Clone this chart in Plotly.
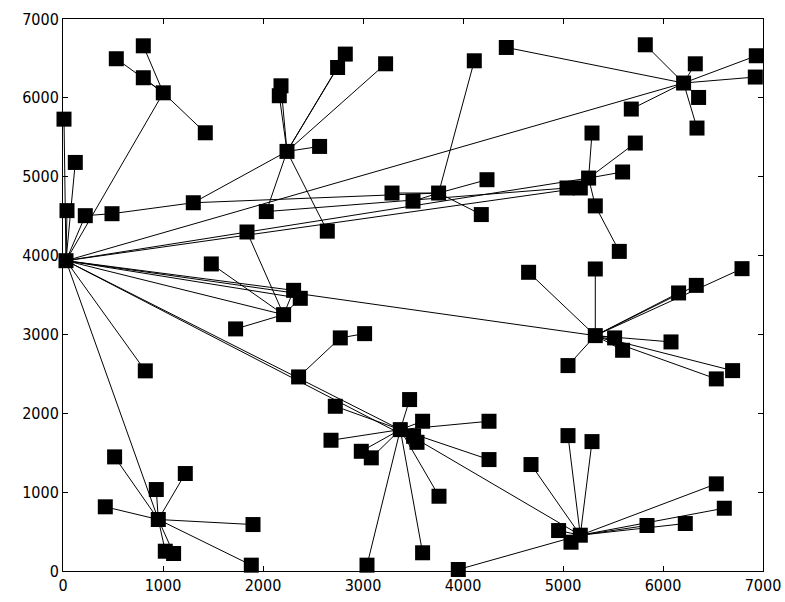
import plotly.graph_objects as go

# Node coordinates
node_x = [30, 10, 123, 40, 223, 490, 1303,
          1003, 533, 803, 803, 1423,
          2240, 2180, 2163, 2746, 2823, 3226, 2566, 2643, 2033,
          3756, 3290, 3500, 4240, 4183, 4113,
          6206, 5823, 6323, 6356, 6340, 6933, 6923, 5683, 4433,
          5256, 5290, 5723, 5596, 5040, 5173, 5323, 5563,
          2206, 2306, 2373, 1726, 1483, 1840,
          823,
          2356, 2773, 3016,
          5323, 4656, 5323, 6790, 6333, 6156, 5516, 5596, 6080, 6696, 6533, 5050,
          3373, 3466, 3596, 4260, 3506, 3540, 2680, 2983, 3083, 4260, 3760, 3596, 3040, 2723,
          953, 516, 933, 1223, 423, 1900, 1023, 1106, 1883,
          5173, 4956, 5080, 5050, 5290, 4680, 5840, 6223, 6533, 6613, 3953]
node_y = [3935, 5730, 5181, 4570, 4506, 4531, 4670,
          6064, 6496, 6660, 6255, 5557,
          5321, 6153, 6027, 6385, 6555, 6432, 5384, 4310, 4558,
          4793, 4793, 4690, 4962, 4520, 6470,
          6188, 6673, 6432, 6005, 5617, 6534, 6264, 5858, 6639,
          4983, 5554, 5427, 5060, 4857, 4857, 4630, 4053,
          3251, 3559, 3458, 3070, 3894, 4299,
          2538,
          2461, 2956, 3010,
          2985, 3788, 3830, 3834, 3622, 3526, 2956, 2799, 2905, 2541, 2436, 2605,
          1793, 2174, 1899, 1899, 1708, 1632, 1658, 1518, 1435, 1413, 948, 231, 74, 2089,
          653, 1447, 1033, 1236, 814, 589, 251, 222, 74,
          454, 513, 365, 1717, 1641, 1350, 577, 602, 1105, 796, 19]

# Edges (pairs of node indices)
edge_from = [0, 0, 0, 0, 0, 0, 0, 0, 0, 0, 0, 0, 0, 0, 0, 0,
             4, 5, 6, 6,
             7, 7, 7, 7,
             12, 12, 12, 12, 12, 12, 12, 12,
             21, 21, 21, 21, 21,
             27, 27, 27, 27, 27, 27, 27, 27,
             36, 36, 36, 36, 36, 36, 42, 20,
             44, 44, 44, 44, 44,
             51, 52,
             54, 54, 54, 54, 54, 54, 54, 54, 54, 54, 54,
             66, 66, 66, 66, 66, 66, 66, 66, 66, 66, 66, 66, 66, 66,
             80, 80, 80, 80, 80, 80, 80, 80,
             89, 89, 89, 89, 89, 89, 89, 89, 89, 89]
edge_to = [1, 2, 3, 4, 7, 27, 36, 41, 44, 45, 46, 54, 66, 71, 50, 80,
           5, 6, 12, 21,
           8, 9, 10, 11,
           13, 14, 15, 16, 17, 18, 19, 20,
           22, 23, 24, 25, 26,
           28, 29, 30, 31, 32, 33, 34, 35,
           37, 38, 39, 40, 41, 42, 43, 40,
           45, 46, 47, 48, 49,
           52, 53,
           55, 56, 57, 58, 59, 60, 61, 62, 63, 64, 65,
           67, 68, 69, 70, 71, 72, 73, 74, 75, 76, 77, 78, 79, 89,
           81, 82, 83, 84, 85, 86, 87, 88,
           90, 91, 92, 93, 94, 95, 96, 97, 98, 99]

tick_vals = [0, 1000, 2000, 3000, 4000, 5000, 6000, 7000]
tick_text = ["0", "1000", "2000", "3000", "4000", "5000", "6000", "7000"]

lx, ly = [], []
for a, b in zip(edge_from, edge_to):
    lx += [node_x[a], node_x[b], None]
    ly += [node_y[a], node_y[b], None]

fig = go.Figure()
fig.add_trace(go.Scatter(x=lx, y=ly, mode="lines",
                         line=dict(color="black", width=1),
                         hoverinfo="skip", showlegend=False))
fig.add_trace(go.Scatter(x=node_x, y=node_y, mode="markers",
                         marker=dict(symbol="square", size=15, color="black",
                                     line=dict(width=0)),
                         cliponaxis=False, showlegend=False))

axis_common = dict(range=[0, 7000], tickvals=tick_vals, ticktext=tick_text,
                   ticks="inside", ticklen=5, tickcolor="black",
                   showline=True, linecolor="black", linewidth=1,
                   mirror="ticks", showgrid=False, zeroline=False,
                   automargin=False,
                   tickfont=dict(family="DejaVu Sans Condensed, DejaVu Sans, Arial",
                                 size=16, color="black"))
fig.update_xaxes(**axis_common)
fig.update_yaxes(**axis_common)

fig.update_layout(width=785, height=602,
                  margin=dict(l=63, r=22, t=19, b=31, pad=0),
                  plot_bgcolor="white", paper_bgcolor="white")

fig.write_html("out.html", config={"displayModeBar": False},
               post_script="document.body.style.margin='0';document.body.style.overflow='hidden';")
